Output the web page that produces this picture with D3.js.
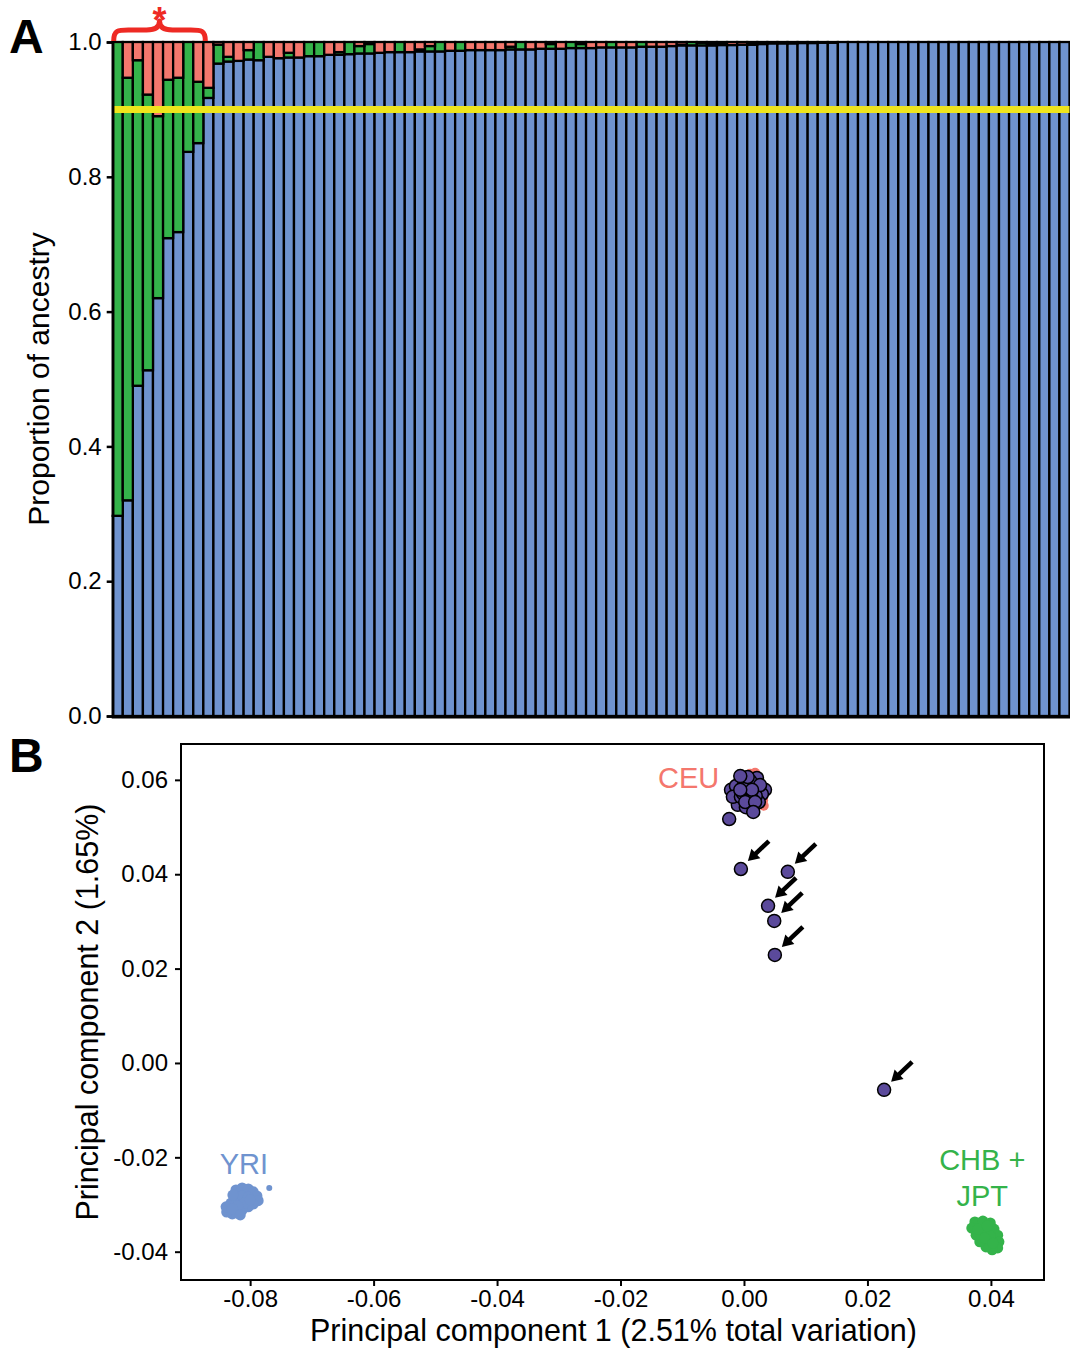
<!DOCTYPE html>
<html>
<head>
<meta charset="utf-8">
<script src="https://cdn.jsdelivr.net/npm/d3@7"></script>
<style>
  body { margin: 0; background: #fff; }
  svg { display: block; font-family: "Liberation Sans", Arial, sans-serif; }
</style>
</head>
<body>
<svg id="chart" width="1070" height="1350"></svg>
<script>
// ---- Panel A: ancestry proportions, one bar per individual ----
const blueProp = [
  .297, .320, .490, .513, .620, .709, .718, .837, .850, .917,
  .968, .971, .972, .974, .973, .978, .976, .977, .977, .979,
  .979, .981, .981, .982, .983, .983, .984, .985, .985, .985,
  .986, .986, .986, .987, .987, .988, .988, .988, .988, .989,
  .989, .989, .990, .990, .990, .991, .991, .991, .992, .992,
  .992, .992, .993, .993, .993, .994, .995, .995, .995, .995,
  .9955, .9955, .996, .996, .997, .998, .998, .998, .9985, .9985,
  .999, .999, 1, 1, 1, 1, 1, 1, 1, 1,
  1, 1, 1, 1, 1, 1, 1, 1, 1, 1,
  1, 1, 1, 1, 1
];
const greenProp = [
  .703, .627, .483, .409, .270, .235, .229, .163, .091, .015,
  .028, .007, 0, .014, .027, 0, 0, .007, 0, .021,
  .021, 0, .004, .018, .011, .014, 0, 0, .015, 0,
  .003, .008, .014, 0, .013, 0, 0, 0, 0, .004,
  .011, 0, 0, .007, 0, .009, .006, 0, 0, .008,
  0, 0, .007, 0, 0, 0, .001, .005, .004, .003,
  .003, 0, 0, .003, 0, 0, 0, 0, 0, 0,
  0, 0, 0, 0, 0, 0, 0, 0, 0, 0,
  0, 0, 0, 0, 0, 0, 0, 0, 0, 0,
  0, 0, 0, 0, 0
];
const redProp = [
  0, .053, .027, .078, .110, .056, .053, 0, .059, .068,
  .004, .022, .028, .012, 0, .022, .024, .016, .023, 0,
  0, .019, .015, 0, .006, .003, .016, .015, 0, .015,
  .011, .006, 0, .013, 0, .012, .012, .012, .012, .007,
  0, .011, .010, .003, .010, 0, .003, .009, .008, 0,
  .008, .008, 0, .007, .007, .006, .004, 0, .001, .002,
  .0015, .0045, .004, .001, .003, .002, .002, .002, .0015, .0015,
  .001, .001, 0, 0, 0, 0, 0, 0, 0, 0,
  0, 0, 0, 0, 0, 0, 0, 0, 0, 0,
  0, 0, 0, 0, 0
];
const yTicksA = [0, 0.2, 0.4, 0.6, 0.8, 1.0];
const cutoff = 0.9;       // yellow threshold line
const bracedBars = 9;     // individuals marked with the brace + asterisk

// ---- Panel B: PCA ----
const xTicksB = [-0.08, -0.06, -0.04, -0.02, 0.00, 0.02, 0.04];
const yTicksB = [-0.04, -0.02, 0.00, 0.02, 0.04, 0.06];

const ceuPoints = [
  [0.0010, 0.0613], [0.0018, 0.0615], [0.0031, 0.0557], [0.0032, 0.0545],
  [-0.0016, 0.0585], [-0.0018, 0.0572], [0.0002, 0.0579], [0.0013, 0.0568],
  [-0.0006, 0.0557], [0.0023, 0.0589]
];
const yriPoints = [
  [-0.0823, -0.0269], [-0.0813, -0.0265], [-0.0803, -0.0267], [-0.0795, -0.0273],
  [-0.0789, -0.0282], [-0.0787, -0.0292], [-0.0795, -0.0299], [-0.0803, -0.0305],
  [-0.0813, -0.0312], [-0.0821, -0.0318], [-0.0829, -0.0320], [-0.0838, -0.0316],
  [-0.0839, -0.0305], [-0.0831, -0.0297], [-0.0823, -0.0286], [-0.0813, -0.0282],
  [-0.0803, -0.0284], [-0.0810, -0.0297], [-0.0820, -0.0303], [-0.0829, -0.0309],
  [-0.0816, -0.0322], [-0.0800, -0.0290], [-0.0828, -0.0280]
];
const yriStray = [[-0.0769, -0.0265]];
const asnPoints = [
  [0.0374, -0.0337], [0.0387, -0.0335], [0.0399, -0.0339], [0.0405, -0.0352],
  [0.0411, -0.0365], [0.0413, -0.0379], [0.0411, -0.0392], [0.0402, -0.0396],
  [0.0392, -0.0390], [0.0382, -0.0379], [0.0376, -0.0365], [0.0369, -0.0350],
  [0.0389, -0.0354], [0.0399, -0.0367], [0.0390, -0.0371], [0.0379, -0.0352],
  [0.0403, -0.0382], [0.0394, -0.0345]
];
// study samples
const sampleCluster = [
  [-0.0021, 0.0579], [0.0034, 0.0579], [0.0029, 0.0570], [-0.0010, 0.0547],
  [0.0003, 0.0542], [0.0024, 0.0553], [0.0021, 0.0604], [-0.0013, 0.0587],
  [-0.0018, 0.0564], [0.0010, 0.0598], [0.0000, 0.0591], [0.0019, 0.0566],
  [0.0008, 0.0568], [-0.0005, 0.0564], [0.0013, 0.0559], [-0.0002, 0.0572],
  [0.0005, 0.0583], [0.0026, 0.0589], [0.0006, 0.0606], [-0.0006, 0.0608],
  [0.0002, 0.0553], [0.0013, 0.0579], [0.0018, 0.0553], [0.0015, 0.0532],
  [-0.0006, 0.0579]
];
const sampleLone = [[-0.0024, 0.0517]];
const sampleArrowed = [
  [-0.0005, 0.0411], [0.0071, 0.0405], [0.0039, 0.0333],
  [0.0049, 0.0301], [0.0050, 0.0229], [0.0227, -0.0057]
];
const popLabels = [
  { text: "CEU", x: -0.0040, y: 0.0583, anchor: "end", color: "salmon" },
  { text: "YRI", x: -0.0810, y: -0.0235, anchor: "middle", color: "blue" },
  { text: "CHB +", x: 0.0386, y: -0.0227, anchor: "middle", color: "green" },
  { text: "JPT", x: 0.0386, y: -0.0303, anchor: "middle", color: "green" }
];

const colors = {
  blue: "#6f93cf",
  green: "#34b34a",
  salmon: "#f4776d",
  yellow: "#efe51c",
  purple: "#5b4a9b",
  brace: "#ee2a24"
};

const svg = d3.select("#chart");

// ================= Panel A =================
const A = { left: 112.7, right: 1069.5, top: 42, bottom: 716 };

const rows = blueProp.map((b, i) => ({ id: i, blue: b, green: greenProp[i], red: redProp[i] }));
const stacked = d3.stack().keys(["blue", "green", "red"])(rows);

const xA = d3.scaleBand()
  .domain(rows.map(d => d.id))
  .range([A.left, A.right])
  .padding(0);

const yA = d3.scaleLinear()
  .domain([0, 1])
  .range([A.bottom, A.top]);

const segColor = { blue: colors.blue, green: colors.green, red: colors.salmon };

const gA = svg.append("g");
gA.selectAll("g.layer")
  .data(stacked)
  .join("g")
  .attr("class", "layer")
  .attr("fill", d => segColor[d.key])
  .selectAll("rect")
  .data(d => d.filter(s => s[1] - s[0] > 0))
  .join("rect")
  .attr("x", d => xA(d.data.id))
  .attr("width", xA.bandwidth())
  .attr("y", d => yA(d[1]))
  .attr("height", d => yA(d[0]) - yA(d[1]))
  .attr("stroke", "#000")
  .attr("stroke-width", 2.3);

// threshold line
gA.append("line")
  .attr("x1", A.left).attr("x2", A.right)
  .attr("y1", yA(cutoff)).attr("y2", yA(cutoff))
  .attr("stroke", colors.yellow)
  .attr("stroke-width", 7);

// axes
const yAxisA = d3.axisLeft(yA).tickValues(yTicksA).tickFormat(d3.format(".1f")).tickSize(6).tickPadding(5);
const gyA = gA.append("g")
  .attr("transform", `translate(${A.left},0)`)
  .call(yAxisA);
gyA.select(".domain").attr("stroke-width", 2.5);
gyA.selectAll(".tick line").attr("stroke-width", 2.5);
gyA.selectAll(".tick text").attr("font-size", 24).attr("fill", "#000")
  .attr("font-family", "Liberation Sans, Arial, sans-serif");

gA.append("line")
  .attr("x1", A.left - 1).attr("x2", A.right + 1)
  .attr("y1", A.bottom + 1).attr("y2", A.bottom + 1)
  .attr("stroke", "#000").attr("stroke-width", 3);

gA.append("text")
  .attr("transform", `translate(38,${(A.top + A.bottom) / 2}) rotate(-90)`)
  .attr("text-anchor", "middle")
  .attr("dominant-baseline", "central")
  .attr("font-size", 30)
  .text("Proportion of ancestry");

// brace over the flagged individuals
const bx0 = xA(0) + 1, bx1 = xA(bracedBars - 1) + xA.bandwidth() + 2;
const bm = (bx0 + bx1) / 2, by0 = yA(1) - 1, by1 = by0 - 11, byPeak = by0 - 20;
gA.append("path")
  .attr("d", `M${bx0},${by0} C${bx0},${by1 - 1} ${bx0 + 5},${by1} ${bx0 + 18},${by1}
              L${bm - 13},${by1} C${bm - 4},${by1} ${bm},${by1 - 3} ${bm},${byPeak}
              C${bm},${by1 - 3} ${bm + 4},${by1} ${bm + 13},${by1}
              L${bx1 - 18},${by1} C${bx1 - 5},${by1} ${bx1},${by1 - 1} ${bx1},${by0}`)
  .attr("fill", "none")
  .attr("stroke", colors.brace)
  .attr("stroke-width", 5)
  .attr("stroke-linejoin", "round");
gA.append("text")
  .attr("x", bm).attr("y", byPeak + 12)
  .attr("text-anchor", "middle")
  .attr("font-size", 36)
  .attr("font-weight", "bold")
  .attr("fill", colors.brace)
  .text("*");

svg.append("text").attr("x", 9).attr("y", 53)
  .attr("font-size", 48).attr("font-weight", "bold").text("A");

// ================= Panel B =================
const B = { left: 181, right: 1044, top: 744, bottom: 1280 };

const xB = d3.scaleLinear().domain([-0.0912, 0.0486]).range([B.left, B.right]);
const yB = d3.scaleLinear().domain([-0.0460, 0.0676]).range([B.bottom, B.top]);
const fmt = d => d3.format(".2f")(d).replace("\u2212", "-");

const gB = svg.append("g");

gB.append("rect")
  .attr("x", B.left).attr("y", B.top)
  .attr("width", B.right - B.left).attr("height", B.bottom - B.top)
  .attr("fill", "none").attr("stroke", "#000").attr("stroke-width", 2);

const gxB = gB.append("g")
  .attr("transform", `translate(0,${B.bottom})`)
  .call(d3.axisBottom(xB).tickValues(xTicksB).tickFormat(fmt).tickSize(6).tickPadding(4));
const gyB = gB.append("g")
  .attr("transform", `translate(${B.left},0)`)
  .call(d3.axisLeft(yB).tickValues(yTicksB).tickFormat(fmt).tickSize(6).tickPadding(7));
[gxB, gyB].forEach(g => {
  g.select(".domain").remove();
  g.selectAll(".tick line").attr("stroke-width", 2);
  g.selectAll(".tick text").attr("font-size", 24).attr("fill", "#000")
    .attr("font-family", "Liberation Sans, Arial, sans-serif");
});

gB.append("text")
  .attr("x", (B.left + B.right) / 2 + 1).attr("y", 1341)
  .attr("text-anchor", "middle")
  .attr("font-size", 30.5)
  .text("Principal component 1 (2.51% total variation)");
gB.append("text")
  .attr("transform", `translate(87,${(B.top + B.bottom) / 2}) rotate(-90)`)
  .attr("text-anchor", "middle")
  .attr("dominant-baseline", "central")
  .attr("font-size", 30.5)
  .text("Principal component 2 (1.65%)");

// reference populations
function blob(data, color, r) {
  gB.append("g").selectAll("circle")
    .data(data)
    .join("circle")
    .attr("cx", d => xB(d[0]))
    .attr("cy", d => yB(d[1]))
    .attr("r", r)
    .attr("fill", color);
}
blob(ceuPoints, colors.salmon, 5);
blob(yriPoints, colors.blue, 5.5);
blob(yriStray, colors.blue, 3);
blob(asnPoints, colors.green, 5.5);

// study samples
const samples = sampleCluster.concat(sampleLone, sampleArrowed);
gB.append("g").selectAll("circle")
  .data(samples)
  .join("circle")
  .attr("cx", d => xB(d[0]))
  .attr("cy", d => yB(d[1]))
  .attr("r", 6.5)
  .attr("fill", colors.purple)
  .attr("stroke", "#000")
  .attr("stroke-width", 1.5);

// arrows pointing at outlying samples
const gArr = gB.append("g");
sampleArrowed.forEach(d => {
  const cx = xB(d[0]), cy = yB(d[1]);
  const tip = [cx + 7, cy - 8], tail = [cx + 28, cy - 28];
  const len = Math.hypot(tail[0] - tip[0], tail[1] - tip[1]);
  const ux = (tip[0] - tail[0]) / len, uy = (tip[1] - tail[1]) / len;
  const hl = 11, hw = 6.5;
  const base = [tip[0] - ux * hl, tip[1] - uy * hl];
  gArr.append("line")
    .attr("x1", tail[0]).attr("y1", tail[1])
    .attr("x2", base[0] + ux * 2).attr("y2", base[1] + uy * 2)
    .attr("stroke", "#000").attr("stroke-width", 4.5);
  gArr.append("polygon")
    .attr("points", [tip, [base[0] - uy * hw, base[1] + ux * hw], [base[0] + uy * hw, base[1] - ux * hw]]
      .map(p => p.join(",")).join(" "))
    .attr("fill", "#000");
});

gB.append("g").selectAll("text")
  .data(popLabels)
  .join("text")
  .attr("x", d => xB(d.x))
  .attr("y", d => yB(d.y))
  .attr("text-anchor", d => d.anchor)
  .attr("font-size", 29)
  .attr("fill", d => colors[d.color])
  .text(d => d.text);

svg.append("text").attr("x", 9).attr("y", 772)
  .attr("font-size", 48).attr("font-weight", "bold").text("B");
</script>
</body>
</html>
